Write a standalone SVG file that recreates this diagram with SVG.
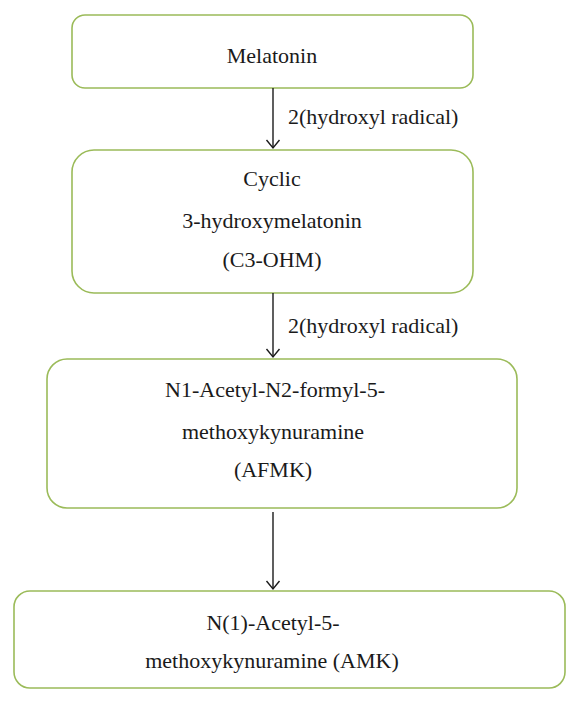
<svg xmlns="http://www.w3.org/2000/svg" width="579" height="703" viewBox="0 0 579 703">
<style>
.box{fill:#ffffff;stroke:#9bbb59;stroke-width:1.6}
.t{font-size:22px;fill:#1a1a1a;text-anchor:middle}
.lbl{font-size:22px;fill:#1a1a1a}
.conn{stroke:#1a1a1a;stroke-width:1.4;fill:none}
.head{stroke:#1a1a1a;stroke-width:1.4;fill:none}
</style>
<defs>
<marker id="arr" markerWidth="16" markerHeight="12" refX="8" refY="10" orient="0" markerUnits="userSpaceOnUse">
<path class="head" d="M1.5,2 L8,10 L14.5,2"/>
</marker>
</defs>
<rect width="579" height="703" fill="#ffffff"/>
<g font-family="'Liberation Serif', 'Times New Roman', 'DejaVu Serif', serif">
<g id="node-melatonin">
<rect class="box" x="72" y="15" width="401" height="73" rx="13" ry="13"/>
<text class="t" x="272" y="63">Melatonin</text>
</g>
<g id="node-c3ohm">
<rect class="box" x="72" y="150" width="401" height="143" rx="22" ry="22"/>
<text class="t" x="272" y="186">Cyclic</text>
<text class="t" x="272" y="228">3-hydroxymelatonin</text>
<text class="t" x="272" y="267">(C3-OHM)</text>
</g>
<g id="node-afmk">
<rect class="box" x="47" y="359" width="470" height="149" rx="20" ry="20"/>
<text class="t" x="275" y="397">N1-Acetyl-N2-formyl-5-</text>
<text class="t" x="273" y="439">methoxykynuramine</text>
<text class="t" x="273" y="477">(AFMK)</text>
</g>
<g id="node-amk">
<rect class="box" x="14" y="591" width="551" height="97" rx="16" ry="16"/>
<text class="t" x="273" y="630">N(1)-Acetyl-5-</text>
<text class="t" x="272" y="668">methoxykynuramine (AMK)</text>
</g>
<g id="connectors">
<line class="conn" x1="273" y1="88" x2="273" y2="148" marker-end="url(#arr)"/>
<text class="lbl" x="288" y="124">2(hydroxyl radical)</text>
<line class="conn" x1="273" y1="293" x2="273" y2="357" marker-end="url(#arr)"/>
<text class="lbl" x="288" y="333">2(hydroxyl radical)</text>
<line class="conn" x1="273" y1="512" x2="273" y2="589" marker-end="url(#arr)"/>
</g>
</g>
</svg>
